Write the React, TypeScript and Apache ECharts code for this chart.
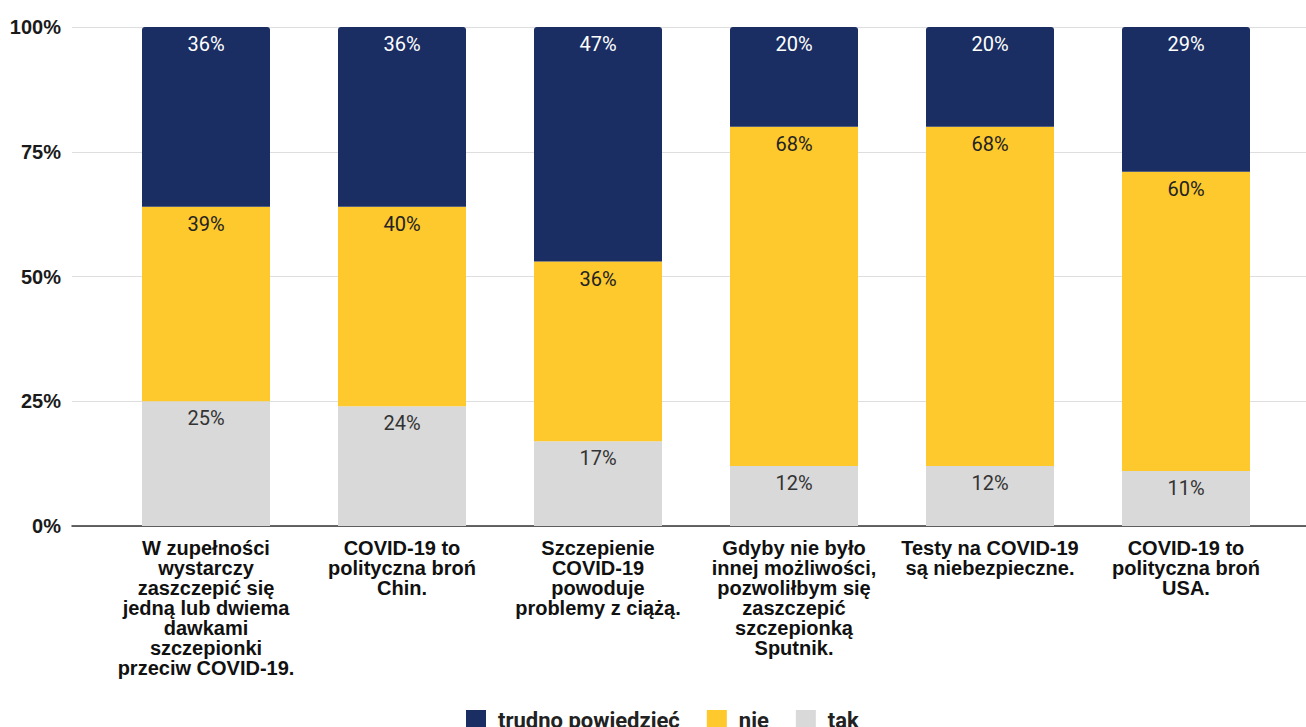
import React, { useEffect, useRef } from "react";
import * as echarts from "echarts";

const categories = [
  "W zupełności\nwystarczy\nzaszczepić się\njedną lub dwiema\ndawkami\nszczepionki\nprzeciw COVID-19.",
  "COVID-19 to\npolityczna broń\nChin.",
  "Szczepienie\nCOVID-19\npowoduje\nproblemy z ciążą.",
  "Gdyby nie było\ninnej możliwości,\npozwoliłbym się\nzaszczepić\nszczepionką\nSputnik.",
  "Testy na COVID-19\nsą niebezpieczne.",
  "COVID-19 to\npolityczna broń\nUSA.",
];
const tak = [25, 24, 17, 12, 12, 11];
const nie = [39, 40, 36, 68, 68, 60];
const trudno = [36, 36, 47, 20, 20, 29];
const yTicks = [0, 25, 50, 75, 100];

const NAVY = "#1b2e63";
const YELLOW = "#fdc92d";
const GRAY = "#d9d9d9";

export default function App() {
  const ref = useRef<HTMLDivElement>(null);
  useEffect(() => {
    document.body.style.margin = "0";
    const chart = echarts.init(ref.current!, null, { renderer: "svg" });
    const labelBase = {
      show: true,
      position: "insideTop" as const,
      distance: 7,
      fontFamily: "Roboto",
      fontSize: 20,
      formatter: (p: any) => p.value + "%",
    };
    chart.setOption({
      animation: false,
      backgroundColor: "#ffffff",
      grid: [
        { left: 72, right: 0, top: 27, bottom: 201 },
        { left: 108, right: 22, top: 27, bottom: 201 },
      ],
      xAxis: [
        {
          type: "value",
          gridIndex: 0,
          min: 0,
          max: 1,
          axisLine: { show: true, onZero: false, lineStyle: { color: "#333", width: 1.5 } },
          axisTick: { show: false },
          axisLabel: { show: false },
          splitLine: { show: false },
        },
        {
          type: "category",
          gridIndex: 1,
          data: categories,
          axisLine: { show: false },
          axisTick: { show: false },
          axisLabel: {
            interval: 0,
            margin: 12,
            fontFamily: "Liberation Sans",
            fontWeight: "bold",
            fontSize: 20,
            lineHeight: 20,
            color: "#111",
            align: "center",
          },
        },
      ],
      yAxis: [
        {
          type: "value",
          gridIndex: 0,
          min: yTicks[0],
          max: yTicks[yTicks.length - 1],
          interval: 25,
          axisLine: { show: false },
          axisTick: { show: false },
          axisLabel: {
            margin: 11,
            formatter: "{value}%",
            fontFamily: "Liberation Sans",
            fontWeight: "bold",
            fontSize: 20,
            color: "#1a1a1a",
          },
          splitLine: { show: true, lineStyle: { color: "#dedede", width: 1 } },
        },
        {
          type: "value",
          gridIndex: 1,
          min: 0,
          max: 100,
          interval: 25,
          show: false,
          splitLine: { show: false },
        },
      ],
      legend: {
        left: 466,
        top: 709,
        padding: 0,
        data: ["trudno powiedzieć", "nie", "tak"],
        itemWidth: 20,
        itemHeight: 20,
        itemGap: 27,
        icon: "rect",
        textStyle: {
          fontFamily: "Roboto",
          fontWeight: "bold",
          fontSize: 22,
          color: "#222",
          padding: [0, 0, 0, 7],
        },
      },
      series: [
        {
          name: "tak",
          type: "bar",
          stack: "s",
          xAxisIndex: 1,
          yAxisIndex: 1,
          barWidth: 128,
          data: tak,
          itemStyle: { color: GRAY },
          label: { ...labelBase, color: "#333" },
        },
        {
          name: "nie",
          type: "bar",
          stack: "s",
          xAxisIndex: 1,
          yAxisIndex: 1,
          barWidth: 128,
          data: nie,
          itemStyle: { color: YELLOW },
          label: { ...labelBase, color: "#222" },
        },
        {
          name: "trudno powiedzieć",
          type: "bar",
          stack: "s",
          xAxisIndex: 1,
          yAxisIndex: 1,
          barWidth: 128,
          data: trudno,
          itemStyle: { color: NAVY, borderRadius: [3, 3, 0, 0] },
          label: { ...labelBase, color: "#ffffff" },
        },
      ],
    });
    return () => chart.dispose();
  }, []);
  return <div ref={ref} style={{ width: 1306, height: 727 }} />;
}
